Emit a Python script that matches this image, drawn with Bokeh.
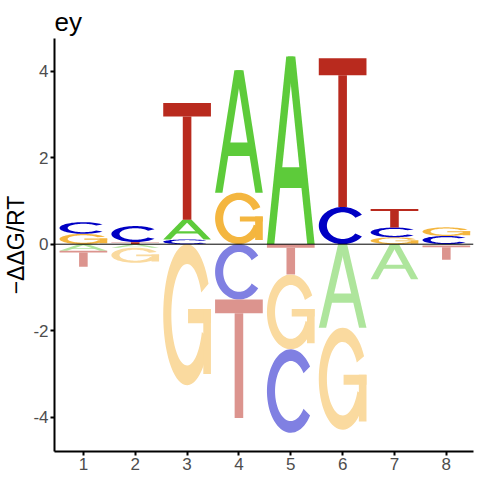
import numpy as np
from bokeh.plotting import figure
from bokeh.models import ColumnDataSource, FixedTicker, Span
from bokeh.embed import file_html
from bokeh.resources import INLINE

# ---------------- data ----------------
positions = [1, 2, 3, 4, 5, 6, 7, 8]
letters = ["A", "C", "G", "T"]
A_vals = [-0.15, -0.08, 0.455, 2.83, 4.34, -1.93, -0.81, -0.03]
C_vals = [0.27, 0.37, 0.11, -1.28, -1.93, 0.86, 0.225, 0.19]
G_vals = [0.24, -0.35, -3.26, 1.19, -1.73, -2.36, 0.16, 0.20]
T_vals = [-0.37, 0.05, 2.70, -2.74, -0.70, 3.44, 0.43, -0.33]
x_tick_labels = ["1", "2", "3", "4", "5", "6", "7", "8"]
y_ticks = [-4, -2, 0, 2, 4]
y_tick_labels = ["-4", "-2", "0", "2", "4"]
title_text = "ey"
y_label_text = "\u2212\u0394\u0394G/RT"

# ---------------- styles ----------------
pos_colors = {"A": "#5DCB3A", "C": "#0000C4", "G": "#F4B63F", "T": "#B92A1E"}


def blend(hexc, a=0.5):
    r, g, b = int(hexc[1:3], 16), int(hexc[3:5], 16), int(hexc[5:7], 16)
    r, g, b = [int(round(c * a + 255 * (1 - a))) for c in (r, g, b)]
    return "#%02X%02X%02X" % (r, g, b)


neg_colors = {k: blend(v) for k, v in pos_colors.items()}
LETTER_W = 0.92


# ---------------- letter shape templates (unit box) ----------------
def ring(a0, a1, rxo=0.5, ryo=0.5, rxi=0.33, ryi=0.36, n=60):
    ang = np.radians(np.linspace(a0, a1, n))
    ox = 0.5 + rxo * np.cos(ang)
    oy = 0.5 + ryo * np.sin(ang)
    ix = 0.5 + rxi * np.cos(ang[::-1])
    iy = 0.5 + ryi * np.sin(ang[::-1])
    return list(zip(np.concatenate([ox, ix]), np.concatenate([oy, iy])))


def rect(x0, y0, x1, y1):
    return [(x0, y0), (x1, y0), (x1, y1), (x0, y1)]


templates = {
    "A": [
        [(0, 0), (0.155, 0), (0.56, 1), (0.405, 1)],
        [(1, 0), (0.845, 0), (0.44, 1), (0.595, 1)],
        rect(0.2, 0.30, 0.8, 0.41),
    ],
    "C": [ring(36, 324)],
    "G": [ring(26, 340), rect(0.52, 0.44, 1.0, 0.54), rect(0.84, 0.08, 1.0, 0.54)],
    "T": [rect(0, 0.885, 1, 1), rect(0.41, 0, 0.59, 0.885)],
}

vals = {"A": A_vals, "C": C_vals, "G": G_vals, "T": T_vals}

xs, ys, cols = [], [], []
for i, xc in enumerate(positions):
    entries = [(L, vals[L][i]) for L in letters]
    posl = sorted([e for e in entries if e[1] > 0], key=lambda e: e[1])
    negl = sorted([e for e in entries if e[1] < 0], key=lambda e: -e[1])
    stacks = []
    base = 0.0
    for L, v in posl:
        stacks.append((L, base, base + v, pos_colors[L]))
        base += v
    base = 0.0
    for L, v in negl:
        stacks.append((L, base + v, base, neg_colors[L]))
        base += v
    for L, y0, y1, c in stacks:
        for poly in templates[L]:
            px = [xc - LETTER_W / 2 + u * LETTER_W for u, t in poly]
            py = [y0 + t * (y1 - y0) for u, t in poly]
            xs.append(px)
            ys.append(py)
            cols.append(c)

src = ColumnDataSource(dict(xs=xs, ys=ys, color=cols))

# ---------------- figure ----------------
p = figure(
    width=480, height=480,
    x_range=(0.443, 8.524), y_range=(-4.793, 4.756),
    output_backend="svg", toolbar_location=None,
    min_border_left=51, min_border_right=7, min_border_top=38, min_border_bottom=29,
    background_fill_color="white", border_fill_color="white",
    title=title_text,
)
p.outline_line_color = None
p.grid.visible = False

p.title.text_font = "Liberation Sans"
p.title.text_font_size = "26px"
p.title.text_font_style = "normal"
p.title.text_color = "black"
p.title.align = "left"
p.title.standoff = 4
p.title.offset = 0

p.patches("xs", "ys", source=src, fill_color="color", line_color=None)

p.add_layout(Span(location=0, dimension="width", line_color="black", line_width=1))

for ax in (p.xaxis[0], p.yaxis[0]):
    ax.axis_line_color = "black"
    ax.axis_line_width = 2
    ax.major_tick_line_color = "black"
    ax.major_tick_line_width = 2
    ax.major_tick_out = 4
    ax.major_tick_in = 0
    ax.minor_tick_line_color = None
    ax.major_label_text_font = "Liberation Sans"
    ax.major_label_text_font_size = "17px"
    ax.major_label_text_color = "#4D4D4D"
    ax.major_label_standoff = 2

p.xaxis[0].ticker = FixedTicker(ticks=positions)
p.xaxis[0].major_label_overrides = {pp: lab for pp, lab in zip(positions, x_tick_labels)}
p.yaxis[0].ticker = FixedTicker(ticks=y_ticks)
p.yaxis[0].major_label_overrides = {t: lab for t, lab in zip(y_ticks, y_tick_labels)}
p.yaxis[0].axis_label = y_label_text
p.yaxis[0].axis_label_text_font = "Liberation Sans"
p.yaxis[0].axis_label_text_font_size = "23px"
p.yaxis[0].axis_label_text_font_style = "normal"
p.yaxis[0].axis_label_text_color = "black"
p.yaxis[0].axis_label_standoff = 1

open("out.html", "w").write(file_html(p, INLINE))
